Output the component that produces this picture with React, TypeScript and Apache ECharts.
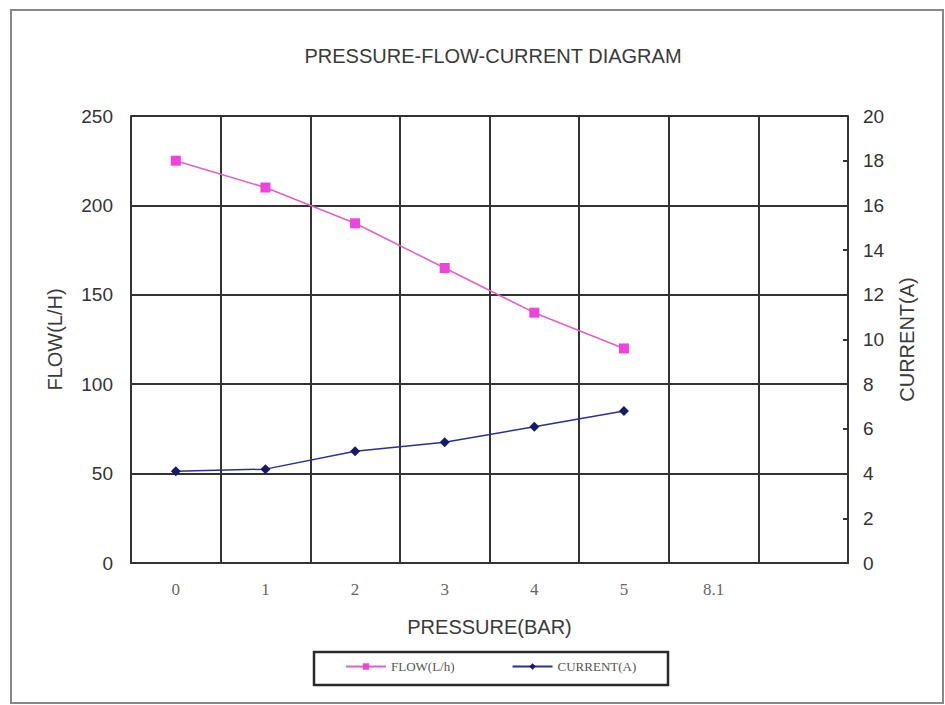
import React, { useEffect, useRef } from "react";
import * as echarts from "echarts";

const pressureLabels = ["0", "1", "2", "3", "4", "5", "8.1", ""];
const flowValues = [225, 210, 190, 165, 140, 120];
const currentValues = [4.1, 4.2, 5.0, 5.4, 6.1, 6.8];
const titleText = "PRESSURE-FLOW-CURRENT DIAGRAM";

export default function App() {
  const ref = useRef<HTMLDivElement>(null);
  useEffect(() => {
    const chart = echarts.init(ref.current!, null, { renderer: "svg" });
    const sans = "Liberation Sans, Arial, sans-serif";
    const serif = "Liberation Serif, DejaVu Serif, serif";
    chart.setOption({
      animation: false,
      backgroundColor: "#ffffff",
      title: {
        text: titleText,
        left: 488,
        textAlign: "center",
        top: 41,
        textStyle: { fontFamily: sans, fontSize: 20, fontWeight: "normal", color: "#3a3a3a" },
      },
      graphic: [
        {
          type: "rect",
          shape: { x: 11, y: 10, width: 932, height: 693 },
          style: { fill: "none", stroke: "#888", lineWidth: 2 },
          silent: true,
        },
        {
          type: "rect",
          shape: { x: 314, y: 652, width: 354, height: 33 },
          style: { fill: "none", stroke: "#2a2a2a", lineWidth: 2.5 },
          silent: true,
        },
      ],
      legend: {
        left: 345,
        top: 660,
        padding: 0,
        itemGap: 57,
        itemWidth: 40,
        itemHeight: 8,
        textStyle: { fontFamily: serif, fontSize: 13, color: "#555" },
        data: ["FLOW(L/h)", "CURRENT(A)"],
      },
      grid: { left: 131, right: 97, top: 116, bottom: 142, containLabel: false },
      xAxis: {
        type: "category",
        data: pressureLabels,
        boundaryGap: true,
        name: "PRESSURE(BAR)",
        nameLocation: "middle",
        nameGap: 54,
        nameTextStyle: { fontFamily: sans, fontSize: 20, color: "#3a3a3a" },
        axisLine: { lineStyle: { color: "#333", width: 2 } },
        axisTick: { show: false },
        axisLabel: { fontFamily: serif, fontSize: 17, color: "#666", margin: 18 },
        splitLine: { show: true, lineStyle: { color: "#333", width: 2 } },
      },
      yAxis: [
        {
          type: "value",
          min: 0,
          max: 250,
          interval: 50,
          name: "FLOW(L/H)",
          nameLocation: "middle",
          nameGap: 66,
          nameRotate: 90,
          nameTextStyle: { fontFamily: sans, fontSize: 20, color: "#3a3a3a" },
          axisLine: { show: true, lineStyle: { color: "#333", width: 2 } },
          axisTick: { show: false },
          axisLabel: { fontFamily: sans, fontSize: 19, color: "#333", margin: 18 },
          splitLine: { show: true, lineStyle: { color: "#333", width: 2 } },
        },
        {
          type: "value",
          min: 0,
          max: 20,
          interval: 2,
          position: "right",
          name: "CURRENT(A)",
          nameLocation: "middle",
          nameGap: 49,
          nameRotate: 90,
          nameTextStyle: { fontFamily: sans, fontSize: 20, color: "#3a3a3a" },
          axisLine: { show: true, lineStyle: { color: "#333", width: 2 } },
          axisTick: { show: true, inside: true, length: 5, lineStyle: { color: "#333", width: 2 } },
          axisLabel: { fontFamily: sans, fontSize: 19, color: "#333", margin: 15 },
          splitLine: { show: false },
        },
      ],
      series: [
        {
          name: "FLOW(L/h)",
          type: "line",
          yAxisIndex: 0,
          data: flowValues,
          symbol: "rect",
          symbolSize: 10,
          itemStyle: { color: "#ee44dd" },
          lineStyle: { color: "#e060c8", width: 1.5 },
        },
        {
          name: "CURRENT(A)",
          type: "line",
          yAxisIndex: 1,
          data: currentValues,
          symbol: "diamond",
          symbolSize: 10,
          itemStyle: { color: "#141a6e" },
          lineStyle: { color: "#2a3090", width: 1.5 },
        },
      ],
    });
    return () => chart.dispose();
  }, []);
  return (
    <div
      ref={ref}
      style={{ position: "fixed", left: 0, top: 0, width: 945, height: 705 }}
    />
  );
}
